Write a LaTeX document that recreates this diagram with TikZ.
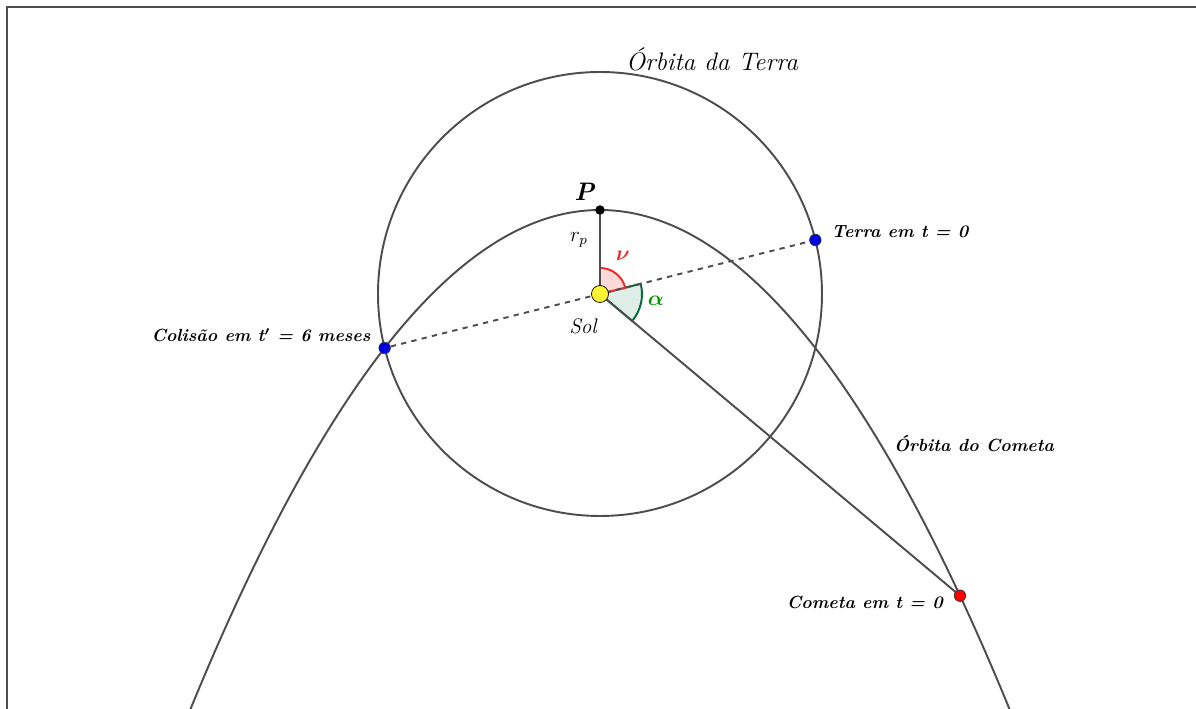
\documentclass[tikz,border=0pt]{standalone}
\usepackage{amsmath}
\usepackage{bm}
\usepackage{fontspec}
\usetikzlibrary{positioning, calc}
\definecolor{orbitgray}{RGB}{77,77,77}
\definecolor{nured}{RGB}{240,40,40}
\definecolor{alphagreen}{RGB}{0,110,60}
\definecolor{alphalabel}{RGB}{0,150,0}
\tikzset{
  orbit/.style={draw=orbitgray, line width=1.1pt},
  radial/.style={draw=orbitgray, line width=1.1pt},
  sightline/.style={draw=orbitgray, dashed, line width=1.1pt},
  dotnode/.style={circle, draw=black!80, inner sep=0pt, minimum size=0.23cm},
  earthdot/.style={dotnode, fill=blue!90!black},
  cometdot/.style={dotnode, fill=red},
  peridot/.style={circle, fill=black, inner sep=0pt, minimum size=0.19cm},
  sundot/.style={circle, draw=black, fill=yellow!80, inner sep=0pt, minimum size=0.34cm},
  nuarc/.style={draw=nured, line width=1.1pt, fill=red!15},
  alphaarc/.style={draw=alphagreen, line width=1.1pt, fill=alphagreen!12},
  orbitlabel/.style={font=\Large\itshape\addfontfeature{LetterSpace=12}},
  eventlabel/.style={font=\normalsize\bfseries\itshape\addfontfeature{LetterSpace=11}\boldmath},
}

\begin{document}
\begin{tikzpicture}
  \useasboundingbox (-12,-8.3) rectangle (11.92,5.88);
  \draw[orbitgray, line width=0.8pt] (-11.86,-8.3) |- (11.92,5.74);

  \coordinate (sun) at (0,0);
  \coordinate (peri) at (0,1.68);
  \coordinate (earth0) at (4.307,1.08);
  \coordinate (crash) at (-4.307,-1.08);
  \coordinate (comet0) at (7.2,-6.034);

  % angles
  \draw[alphaarc] (sun) -- ++(-39.95:0.84) arc[start angle=-39.95, end angle=14.08, radius=0.84] -- cycle;
  \draw[nuarc] (sun) -- ++(14.08:0.52) arc[start angle=14.08, end angle=90, radius=0.52] -- cycle;

  % orbits
  \draw[orbit] (sun) circle[radius=4.44];
  \begin{scope}
    \clip (-12,-8.3) rectangle (11.92,5.88);
    \draw[orbit] plot[domain=-8.4:8.4, samples=120, smooth] (\x, {1.68-\x*\x/6.72});
  \end{scope}

  \draw[sightline] (earth0) -- (crash);
  \draw[radial] (sun) -- (peri);
  \draw[radial] (sun) -- (comet0);

  \node[earthdot] (E0) at (earth0) {};
  \node[earthdot] (C1) at (crash) {};
  \node[cometdot] (K0) at (comet0) {};
  \node[peridot] (P) at (peri) {};
  \node[sundot] (S) at (sun) {};

  \node[orbitlabel] at (2.24,4.7) {Órbita da Terra};
  \node[font=\Large\bfseries\itshape, above left=0.0cm and -0.08cm of P] {P};
  \node[font=\large] at (-0.42,1.08) {$r_p$};
  \node[font=\large, text=nured] at (0.46,0.76) {$\bm{\nu}$};
  \node[font=\large, text=alphalabel] at (1.12,-0.14) {$\bm{\alpha}$};
  \node[orbitlabel, font=\large\itshape\addfontfeature{LetterSpace=14}] at (-0.34,-0.64) {Sol};
  \node[eventlabel, right=0.08cm of E0, yshift=0.16cm] {Terra em t = 0};
  \node[eventlabel, left=0.04cm of C1, yshift=0.26cm] {Colisão em t$'$ = 6 meses};
  \node[eventlabel] at (7.48,-3.0) {Órbita do Cometa};
  \node[eventlabel, left=0.1cm of K0, yshift=-0.14cm] {Cometa em t = 0};
\end{tikzpicture}
\end{document}
